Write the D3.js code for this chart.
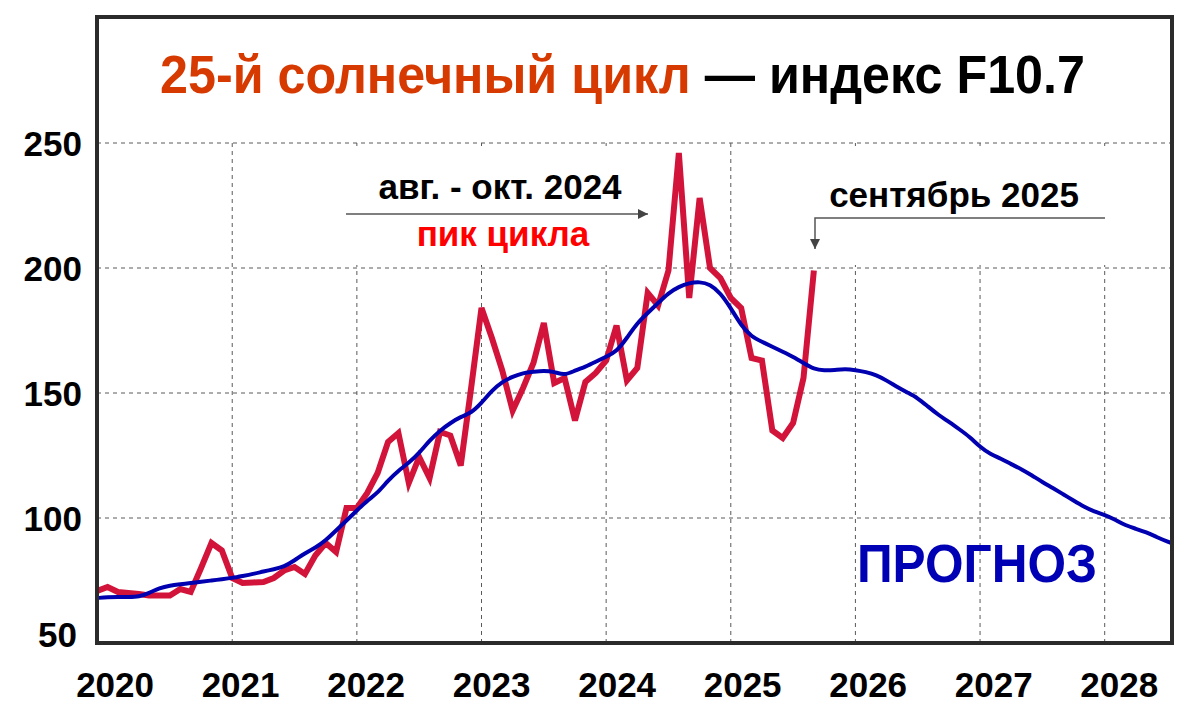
<!DOCTYPE html>
<html>
<head>
<meta charset="utf-8">
<title>25-й солнечный цикл — индекс F10.7</title>
<style>
  body { margin: 0; background: #fff; }
  text { font-family: "Liberation Sans", Arial, sans-serif; font-weight: bold; }
  .grid { stroke: #5a5a5a; stroke-width: 1; stroke-dasharray: 4,4; fill: none; }
  .tick { font-size: 35px; fill: #000; }
  .note { font-size: 35px; text-anchor: middle; }
  .pointer { stroke: #555; stroke-width: 1.5; fill: none; }
</style>
</head>
<body>
<script src="https://cdn.jsdelivr.net/npm/d3@7"></script>
<script>
// первая точка рядов — декабрь 2019, шаг — месяц
var firstMonth = 2019 + 11/12;

// среднемесячный F10.7 (наблюдения)
var observed = [
  70.8, 72.4, 70.4, 70, 69.6, 69, 69, 69, 71.6, 70.4, 80, 90, 87,
  76, 74, 74.2, 74.4, 76, 79, 80.4, 77.6, 85, 90, 86.4, 104,
  104, 110, 118, 130.4, 134, 114, 124.4, 116, 134.4, 133, 121, 152,
  184, 172, 159, 143, 152, 162, 178, 154, 156, 139, 154.4, 158,
  163, 177, 155, 160, 190, 185, 199, 246, 188, 228, 200, 196,
  188, 184, 164, 163, 135, 132, 138, 156, 199
];

// сглаженный ряд + прогноз
var smoothed = [
  68, 68.3, 68.4, 68.4, 68.4, 70, 72, 73, 73.5, 74, 74.5, 75, 75.5,
  76, 76.8, 77.6, 78.6, 79.5, 80.5, 83, 86, 88, 91, 95, 99,
  103, 107, 110, 115, 119, 122, 126, 131, 135, 138, 140.5, 142,
  146, 151, 154.5, 156.5, 158, 158.5, 159, 158.5, 157, 159, 160.5, 162.5,
  164.5, 166.5, 172, 178, 182, 186, 190, 192.5, 194, 194.5, 193.5, 190,
  184, 177, 172.5, 170.5, 168.5, 166.5, 164.5, 162, 159.5, 159, 159.2, 159.6,
  159.2, 158.4, 157.2, 155, 152.5, 150.2, 148, 144.5, 141.2, 138.5, 135.5, 132.5,
  128.4, 125.5, 123.8, 121.5, 119.5, 117, 114.4, 112, 109.5, 107, 104.5, 102.5,
  101.3, 99.4, 97, 95.7, 94.3, 92.4, 90.6, 89
];

var yearTicks = [2020, 2021, 2022, 2023, 2024, 2025, 2026, 2027, 2028];
var valueTicks = [50, 100, 150, 200, 250];
var gridYears = [2021, 2022, 2023, 2024, 2025, 2026, 2027, 2028];
var gridValues = [100, 150, 200, 250];

var W = 1200, H = 725;
var plotLeft = 97, plotRight = 1172, plotTop = 18, plotBottom = 643;

var svg = d3.select("body").append("svg")
  .attr("width", W)
  .attr("height", H);

var x = d3.scaleLinear().domain([2019.915, 2028.54]).range([plotLeft, plotRight]);
var y = d3.scaleLinear().domain([50, 300]).range([plotBottom, plotTop]);
// подписи годов чуть сдвинуты вправо от линий сетки
var xLabel = d3.scaleLinear().domain([2020, 2028]).range([x(2020) + 7.5, x(2028) + 14.5]);

function monthX(i) { return x(firstMonth + i / 12); }

var defs = svg.append("defs");
defs.append("clipPath").attr("id", "plot")
  .append("rect").attr("x", plotLeft).attr("y", plotTop)
  .attr("width", plotRight - plotLeft).attr("height", plotBottom - plotTop);

defs.append("marker")
  .attr("id", "head")
  .attr("viewBox", "0 0 10 10")
  .attr("refX", 10).attr("refY", 5)
  .attr("markerWidth", 10).attr("markerHeight", 10)
  .attr("markerUnits", "userSpaceOnUse")
  .attr("orient", "auto")
  .append("path").attr("d", "M0,0L10,5L0,10Z").attr("fill", "#444");

// сетка
svg.append("g").selectAll("line")
  .data(gridValues).enter().append("line")
  .attr("class", "grid")
  .attr("x1", plotLeft).attr("x2", plotRight)
  .attr("y1", function(d) { return y(d); })
  .attr("y2", function(d) { return y(d); });

svg.append("g").selectAll("line")
  .data(gridYears).enter().append("line")
  .attr("class", "grid")
  .attr("x1", function(d) { return x(d); })
  .attr("x2", function(d) { return x(d); })
  .attr("y1", y(250)).attr("y2", plotBottom);

// подложки под подписи
svg.append("rect").attr("x", 340).attr("y", y(250) + 3)
  .attr("width", 320).attr("height", y(200) - y(250) - 6).attr("fill", "#fff");
svg.append("rect").attr("x", 795).attr("y", y(250) + 3)
  .attr("width", 370).attr("height", y(200) - y(250) - 6).attr("fill", "#fff");

// заголовок
var title = svg.append("text")
  .attr("x", 160).attr("y", 93)
  .attr("textLength", 925)
  .attr("lengthAdjust", "spacingAndGlyphs")
  .style("font-size", "53px");
title.append("tspan").attr("fill", "#d73a00").text("25-й солнечный цикл");
title.append("tspan").attr("fill", "#000").text(" — индекс F10.7");

// аннотация: пик цикла
svg.append("text").attr("class", "note").attr("x", 500).attr("y", 199)
  .attr("fill", "#000").text("авг. - окт. 2024");
svg.append("line").attr("class", "pointer")
  .attr("x1", 346).attr("y1", 214).attr("x2", 648).attr("y2", 214)
  .attr("marker-end", "url(#head)");
svg.append("text").attr("class", "note").attr("x", 503).attr("y", 246)
  .attr("fill", "#ff0000").text("пик цикла");

// аннотация: сентябрь 2025
svg.append("text").attr("class", "note").attr("x", 954).attr("y", 207)
  .attr("fill", "#000").text("сентябрь 2025");
svg.append("path").attr("class", "pointer")
  .attr("d", "M1105,218H815V249")
  .attr("marker-end", "url(#head)");

// прогноз
svg.append("text")
  .attr("x", 857).attr("y", 582)
  .attr("textLength", 240)
  .attr("lengthAdjust", "spacingAndGlyphs")
  .attr("fill", "#0000b4")
  .style("font-size", "54px")
  .text("ПРОГНОЗ");

var plot = svg.append("g").attr("clip-path", "url(#plot)");

var redLine = d3.line()
  .x(function(d, i) { return monthX(i); })
  .y(function(d) { return y(d); });

plot.append("path")
  .datum(observed)
  .attr("d", redLine)
  .attr("fill", "none")
  .attr("stroke", "#d2143a")
  .attr("stroke-width", 6)
  .attr("stroke-linejoin", "miter");

var blueLine = d3.line()
  .x(function(d, i) { return monthX(i); })
  .y(function(d) { return y(d); })
  .curve(d3.curveBasis);

plot.append("path")
  .datum(smoothed)
  .attr("d", blueLine)
  .attr("fill", "none")
  .attr("stroke", "#0000b0")
  .attr("stroke-width", 4)
  .attr("stroke-linejoin", "round");

// рамка
svg.append("rect")
  .attr("x", plotLeft).attr("y", plotTop - 1)
  .attr("width", plotRight - plotLeft).attr("height", plotBottom - plotTop + 1)
  .attr("fill", "none")
  .attr("stroke", "#2b2b2b")
  .attr("stroke-width", 4);

// подписи осей
svg.append("g").selectAll("text")
  .data(yearTicks).enter().append("text")
  .attr("class", "tick")
  .attr("text-anchor", "middle")
  .attr("x", function(d) { return xLabel(d); })
  .attr("y", 697)
  .text(function(d) { return d; });

svg.append("g").selectAll("text")
  .data(valueTicks).enter().append("text")
  .attr("class", "tick")
  .attr("text-anchor", "end")
  .attr("x", function(d) { return d === 50 ? 77 : 82; })
  .attr("y", function(d) { return d === 50 ? y(d) - 8 : y(d) + 1; })
  .attr("dy", "0.35em")
  .text(function(d) { return d; });
</script>
</body>
</html>
